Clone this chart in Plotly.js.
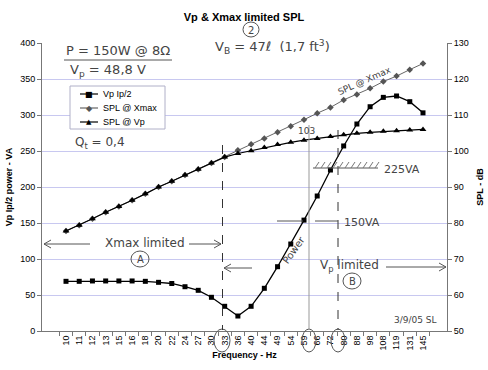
<!DOCTYPE html>
<html><head><meta charset="utf-8">
<script src="https://cdn.plot.ly/plotly-3.0.1.min.js"></script>
<style>body{margin:0;background:#fff}#c{width:488px;height:370px}</style>
</head><body><div id="c"></div>
<script>
const freq = ["10","11","12","13","15","16","18","20","22","24","27","30","33","36","40","44","49","54","59","66","72","80","88","98","108","119","131","145"];
const vpPower = [69,69,69.5,69.5,69.5,69.5,69,67.6,66,61.5,56.5,46.8,34.3,20.8,34.3,59.3,89.3,120.8,154,187.5,223.6,257,287.5,311.5,324.5,326.4,318.5,303];
const splXmax = [77.8,79.4,81.2,83,84.6,86.3,88.1,90,91.6,93.3,94.9,96.7,98.3,100.2,101.9,103.5,105.2,106.9,108.7,110.5,112.1,114.2,115.7,117.4,119.3,120.8,122.6,124.3];
const splVp = [77.8,79.4,81.2,83,84.6,86.3,88.1,90,91.6,93.3,94.9,96.7,98.3,99.3,100.1,101,101.8,102.4,103,103.5,104,104.5,104.9,105.2,105.5,105.6,105.8,106];
const seriesNames = ["Vp Ip/2","SPL @ Xmax","SPL @ Vp"];

const L=42,R=447,T=43,B=331;
const px = x => (x-L)/(R-L);
const py = y => (B-y)/(B-T);
const hand = {family:"DejaVu Sans", size:12, color:"#444"};
const grey = "#555";

const styles = [
 {line:{color:"#000",width:1.3}, marker:{symbol:"square",size:5,color:"#000"}, glyph:"■", gsize:8, gcolor:"#000"},
 {line:{color:"#666",width:1}, marker:{symbol:"diamond",size:5,color:"#555"}, glyph:"◆", gsize:8, gcolor:"#555"},
 {line:{color:"#000",width:1.2}, marker:{symbol:"triangle-up",size:6,color:"#000"}, glyph:"▲", gsize:7, gcolor:"#000"}
];
const traces = [
 {x:freq, y:vpPower, name:seriesNames[0], mode:"lines+markers", line:styles[0].line, marker:styles[0].marker},
 {x:freq, y:splXmax, name:seriesNames[1], yaxis:"y2", mode:"lines+markers", line:styles[1].line, marker:styles[1].marker},
 {x:freq, y:splVp, name:seriesNames[2], yaxis:"y2", mode:"lines+markers", line:styles[2].line, marker:styles[2].marker}
];

const ann = [
 {text:"P = 150W @ 8Ω", x:px(118), y:py(50), font:{...hand,size:13}},
 {text:"V<sub>p</sub> = 48,8 V", x:px(108), y:py(70), font:{...hand,size:13}},
 {text:"V<sub>B</sub> = 47ℓ  (1,7 ft<sup>3</sup>)", x:px(272), y:py(47), font:{...hand,size:13}},
 {text:"2", x:px(251), y:py(30), font:{...hand,size:10}},
 {text:"Q<sub>t</sub> = 0,4", x:px(100), y:py(143), font:{...hand,size:12}},
 {text:"SPL @ Xmax", x:px(364), y:py(81), textangle:-24, font:{...hand,size:9}},
 {text:"103", x:px(306), y:py(131), font:{...hand,size:9}},
 {text:"225VA", x:px(402), y:py(169), font:{...hand,size:11}},
 {text:"150VA", x:px(362), y:py(222), font:{...hand,size:11}},
 {text:"Power", x:px(293), y:py(250), textangle:-55, font:{...hand,size:10}},
 {text:"Xmax limited", x:px(145), y:py(243), font:{...hand,size:12}},
 {text:"A", x:px(140), y:py(259), font:{...hand,size:10}},
 {text:"V<sub>p</sub> limited", x:px(349), y:py(266), font:{...hand,size:12}},
 {text:"B", x:px(352), y:py(281), font:{...hand,size:10}},
 {text:"3/9/05 SL", x:px(415), y:py(320), font:{...hand,size:9}}
];

const shapes = [
 {type:"line", x0:px(64), x1:px(172), y0:py(60), y1:py(60), line:{color:grey,width:1}},
 {type:"circle", x0:px(243), x1:px(259), y0:py(37), y1:py(22), line:{color:grey,width:1}},
 {type:"circle", x0:px(131), x1:px(149), y0:py(267), y1:py(251), line:{color:grey,width:1}},
 {type:"circle", x0:px(343), x1:px(361), y0:py(289), y1:py(273), line:{color:grey,width:1}},
 {type:"circle", x0:px(214), x1:px(230), y0:py(352), y1:py(329), line:{color:grey,width:1}},
 {type:"circle", x0:px(302), x1:px(316), y0:py(352), y1:py(329), line:{color:grey,width:1}},
 {type:"circle", x0:px(331), x1:px(345), y0:py(352), y1:py(329), line:{color:grey,width:1}},
 {type:"line", x0:px(222.5), x1:px(222.5), y0:py(145), y1:py(330), line:{color:"#333",width:1,dash:"dash"}},
 {type:"line", x0:px(309), x1:px(309), y0:py(125), y1:py(330), line:{color:"#999",width:1}},
 {type:"line", x0:px(338), x1:px(338), y0:py(130), y1:py(330), line:{color:"#333",width:1,dash:"dash"}},
 {type:"line", x0:px(277), x1:px(303), y0:py(221), y1:py(221), line:{color:grey,width:1}},
 {type:"line", x0:px(315), x1:px(338), y0:py(221), y1:py(221), line:{color:grey,width:1}},
 {type:"line", x0:px(313), x1:px(378), y0:py(168), y1:py(168), line:{color:grey,width:1}},
 // arrow lines
 {type:"line", x0:px(44), x1:px(90), y0:py(244), y1:py(244), line:{color:grey,width:1}},
 {type:"line", x0:px(189), x1:px(221), y0:py(244), y1:py(244), line:{color:grey,width:1}},
 {type:"line", x0:px(224), x1:px(252), y0:py(268), y1:py(268), line:{color:grey,width:1}},
 {type:"line", x0:px(386), x1:px(446), y0:py(267), y1:py(267), line:{color:grey,width:1}},
 // legend box
 {type:"rect", x0:px(70), x1:px(165), y0:py(86), y1:py(129), line:{color:"#b0b0c8",width:1}, fillcolor:"#fff", layer:"above"}
];
// open arrowheads
function head(xTip, yTip, dir){
  const d = 7*dir;
  return {type:"path", path:`M ${px(xTip+d)},${py(yTip-4)} L ${px(xTip)},${py(yTip)} L ${px(xTip+d)},${py(yTip+4)}`, line:{color:grey,width:1}};
}
shapes.push(head(44,244,1), head(221,244,-1), head(224,268,1), head(446,267,-1));
for (let k=0;k<11;k++){
  const xx = 315 + k*6;
  shapes.push({type:"line", x0:px(xx), x1:px(xx+4), y0:py(168), y1:py(162), line:{color:"#777",width:1}});
}
// legend rows
seriesNames.forEach((nm,i)=>{
  const yy = 94 + i*14;
  shapes.push({type:"line", x0:px(80), x1:px(98), y0:py(yy), y1:py(yy), line:{color:styles[i].line.color,width:1.2}, layer:"above"});
  ann.push({text:styles[i].glyph, x:px(89), y:py(yy), font:{family:"DejaVu Sans", size:styles[i].gsize, color:styles[i].gcolor}});
  ann.push({text:nm, x:px(101), y:py(yy), xanchor:"left", font:{family:"Liberation Sans, Arial", size:9, color:"#000"}});
});
shapes.forEach(s => Object.assign(s, {xref:"paper", yref:"paper"}));
ann.forEach(a => { for (const [k,v] of Object.entries({xref:"paper", yref:"paper", showarrow:false, xanchor:"center", yanchor:"middle"})) if (!(k in a)) a[k]=v; });

const layout = {
 width:488, height:370,
 margin:{l:L, r:488-R, t:T, b:370-B},
 paper_bgcolor:"#fff", plot_bgcolor:"#fff",
 font:{family:"Liberation Sans, Arial", size:9, color:"#000"},
 title:{text:"<b>Vp & Xmax limited SPL</b>", x:0.5, xanchor:"center", y:0.965, font:{size:11}},
 showlegend:false,
 xaxis:{type:"category", categoryorder:"array", categoryarray:freq, tickangle:-90, ticks:"outside", ticklen:4, tickson:"boundaries", tickcolor:"#777",
   showline:true, linecolor:"#777", linewidth:1, showgrid:false, tickfont:{size:9},
   title:{text:"<b>Frequency - Hz</b>", font:{size:9}, standoff:2}},
 yaxis:{range:[0,400], dtick:50, ticks:"outside", ticklen:4, tickcolor:"#777", showline:true, linecolor:"#777",
   gridcolor:"#c8c8f0", gridwidth:1, zeroline:false, tickfont:{size:9},
   title:{text:"<b>Vp Ip/2 power - VA</b>", font:{size:9}, standoff:6}},
 yaxis2:{range:[50,130], dtick:10, overlaying:"y", side:"right", ticks:"outside", ticklen:4, tickcolor:"#777", showline:true, linecolor:"#777",
   showgrid:false, zeroline:false, tickfont:{size:9},
   title:{text:"<b>SPL - dB</b>", font:{size:9}, standoff:8}},
 annotations:ann,
 shapes:shapes
};
Plotly.newPlot("c", traces, layout, {displayModeBar:false, staticPlot:true});
</script></body></html>
